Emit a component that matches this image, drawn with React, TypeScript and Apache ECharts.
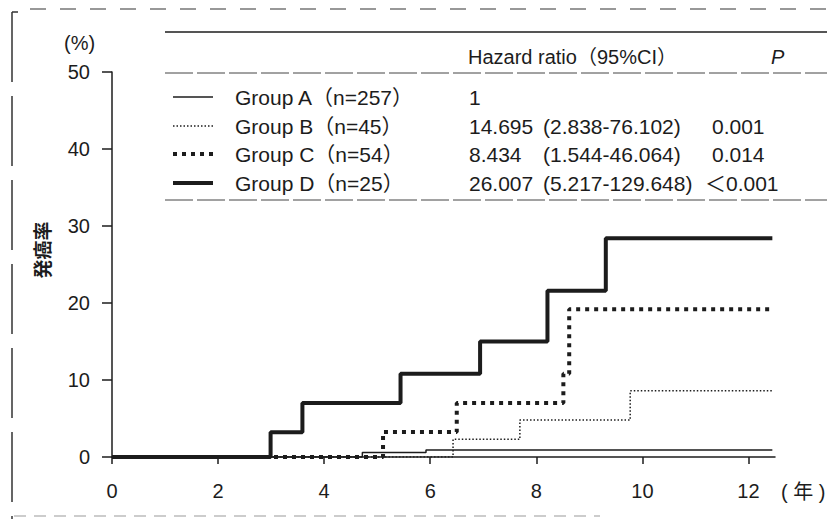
import React, { useEffect, useRef } from "react";
import * as echarts from "echarts";

// ---- data (years, %) ----
const groupNames = ["Group A（n=257）", "Group B（n=45）", "Group C（n=54）", "Group D（n=25）"];
const hazardRatios = ["1", "14.695", "8.434", "26.007"];
const confIntervals = ["", "(2.838-76.102)", "(1.544-46.064)", "(5.217-129.648)"];
const pValues = ["", "0.001", "0.014", "＜0.001"];

const groupA: [number, number][] = [[0, 0], [4.72, 0], [4.72, 0.6], [5.92, 0.6], [5.92, 0.9], [12.45, 0.9]];
const groupB: [number, number][] = [[0, 0], [6.43, 0], [6.43, 2.3], [7.69, 2.3], [7.69, 4.8], [9.77, 4.8], [9.77, 8.6], [12.45, 8.6]];
const groupC: [number, number][] = [[0, 0], [5.11, 0], [5.11, 3.25], [6.5, 3.25], [6.5, 7.0], [8.51, 7.0], [8.51, 10.8], [8.62, 10.8], [8.62, 19.2], [12.45, 19.2]];
const groupD: [number, number][] = [[0, 0], [2.99, 0], [2.99, 3.2], [3.59, 3.2], [3.59, 7.0], [5.44, 7.0], [5.44, 10.8], [6.94, 10.8], [6.94, 15.0], [8.21, 15.0], [8.21, 21.6], [9.31, 21.6], [9.31, 28.4], [12.45, 28.4]];

const xTicks = [0, 2, 4, 6, 8, 10, 12];
const yTicks = [0, 10, 20, 30, 40, 50];

const FONT = "'Liberation Sans', Arial, 'Noto Sans CJK JP', sans-serif";
const INK = "#1c1c1c";

const lineStyles = [
  { width: 1.5, type: "solid" as any, cap: "butt" },
  { width: 1.5, type: [1.5, 2] as any, cap: "butt" },
  { width: 4, type: [4, 5] as any, cap: "butt" },
  { width: 4, type: "solid" as any, cap: "butt" },
];

export default function App() {
  const ref = useRef<HTMLDivElement>(null);
  useEffect(() => {
    if (!ref.current) return;
    const chart = echarts.init(ref.current, undefined, { renderer: "svg" });
    const series = [groupA, groupB, groupC, groupD].map((d, i) => ({
      type: "line",
      data: d,
      showSymbol: false,
      symbol: "none",
      lineStyle: { color: INK, ...lineStyles[i] },
      z: 3 + (i === 3 ? 1 : 0),
    }));

    const rowY = [97, 126, 154, 183];
    const text = (x: number, y: number, t: string, extra: any = {}) => ({
      type: "text",
      x,
      y,
      style: { text: t, fill: INK, font: `21px ${FONT}`, verticalAlign: "middle", align: "left", ...extra },
    });
    const graphics: any[] = [];
    // page border (scan frame)
    graphics.push({ type: "line", shape: { x1: 30, y1: 9, x2: 834, y2: 9 }, style: { stroke: "#333", lineWidth: 1.2, lineDash: [16, 14] } });
    graphics.push({ type: "line", shape: { x1: 12, y1: 12, x2: 12, y2: 519 }, style: { stroke: "#333", lineWidth: 1.5, lineDash: [70, 14] } });
    graphics.push({ type: "line", shape: { x1: 12, y1: 12, x2: 18, y2: 12 }, style: { stroke: "#333", lineWidth: 1.5 } });
    graphics.push({ type: "line", shape: { x1: 14, y1: 516, x2: 600, y2: 516 }, style: { stroke: "#999", lineWidth: 1, lineDash: [12, 8] } });
    // table rules
    graphics.push({ type: "line", shape: { x1: 165, y1: 32, x2: 827, y2: 32 }, style: { stroke: INK, lineWidth: 1.3 } });
    graphics.push({ type: "line", shape: { x1: 165, y1: 73, x2: 827, y2: 73 }, style: { stroke: "#444", lineWidth: 1, lineDash: [28, 4] } });
    graphics.push({ type: "line", shape: { x1: 165, y1: 200, x2: 827, y2: 200 }, style: { stroke: "#444", lineWidth: 1, lineDash: [28, 4] } });
    graphics.push(text(468, 57, "Hazard ratio（95%CI）", { font: `20px ${FONT}` }));
    graphics.push(text(771, 57, "P", { font: `italic 20px ${FONT}` }));
    rowY.forEach((y, i) => {
      const ls = lineStyles[i];
      graphics.push({
        type: "line",
        shape: { x1: 173, y1: y, x2: 213, y2: y },
        style: { stroke: INK, lineWidth: ls.width, lineDash: Array.isArray(ls.type) ? ls.type : null },
      });
      graphics.push(text(235, y, groupNames[i]));
      graphics.push(text(469, y, hazardRatios[i]));
      if (confIntervals[i]) graphics.push(text(543, y, confIntervals[i]));
      if (pValues[i]) graphics.push(text(i === 3 ? 705 : 712, y, pValues[i]));
    });
    // axis annotations
    graphics.push(text(64, 43, "(%)", { font: `20px ${FONT}` }));
    graphics.push(text(781, 492, "( 年 )", { font: `20px ${FONT}` }));
    graphics.push({
      type: "text",
      x: 43,
      y: 250,
      rotation: Math.PI / 2,
      style: { text: "発癌率", fill: INK, font: `bold 19px ${FONT}`, align: "center", verticalAlign: "middle" },
    });

    chart.setOption({
      animation: false,
      backgroundColor: "#ffffff",
      grid: { left: 112, right: 59, top: 72, bottom: 62, containLabel: false },
      xAxis: {
        type: "value",
        min: 0,
        max: 12.5,
        interval: 2,
        splitLine: { show: false },
        axisLine: { lineStyle: { color: INK, width: 1.5 } },
        axisTick: { show: true, length: 7, inside: false, customValues: xTicks, lineStyle: { color: INK, width: 1.5 } },
        axisLabel: { customValues: xTicks, color: INK, fontSize: 20, fontFamily: FONT, margin: 24 },
      },
      yAxis: {
        type: "value",
        min: 0,
        max: 50,
        interval: 10,
        splitLine: { show: false },
        axisLine: { show: true, lineStyle: { color: INK, width: 1.5 } },
        axisTick: { show: true, length: 10, inside: false, customValues: yTicks, lineStyle: { color: INK, width: 1.5 } },
        axisLabel: { customValues: yTicks, color: INK, fontSize: 20, fontFamily: FONT, margin: 22 },
      },
      series,
      graphic: graphics,
    });
    return () => chart.dispose();
  }, []);
  return <div ref={ref} style={{ position: "absolute", left: 0, top: 0, width: 834, height: 519 }} />;
}
